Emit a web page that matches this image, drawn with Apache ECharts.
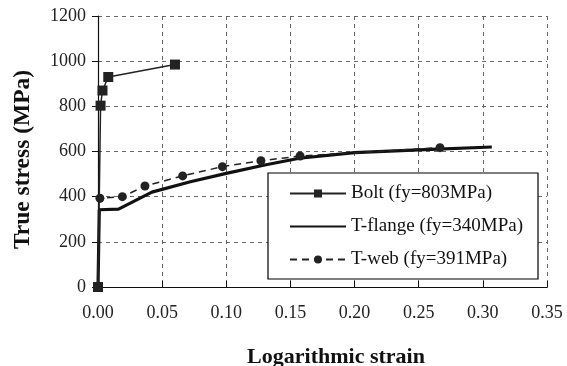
<!DOCTYPE html>
<html><head><meta charset="utf-8">
<script src="https://cdn.jsdelivr.net/npm/echarts@6/dist/echarts.min.js"></script>
<style>html,body{margin:0;padding:0;background:#fff}#c{width:567px;height:366px}</style>
</head><body><div id="c"></div>
<script>
const xTicks = [0, 0.05, 0.10, 0.15, 0.20, 0.25, 0.30, 0.35];
const yTicks = [0, 200, 400, 600, 800, 1000, 1200];
const boltName = 'Bolt (fy=803MPa)';
const flangeName = 'T-flange (fy=340MPa)';
const webName = 'T-web (fy=391MPa)';
const boltData = [[0,0],[0.002,803],[0.0035,870],[0.008,930],[0.060,985]];
const flangeData = [[0,0],[0.001,342],[0.016,345],[0.042,420],[0.072,466],[0.100,503],[0.130,540],[0.157,570],[0.200,595],[0.250,607],[0.307,620]];
const webData = [[0,0],[0.0015,393],[0.019,400],[0.0366,447],[0.066,492],[0.097,533],[0.127,559],[0.1575,580],[0.2666,617]];

const font = 'Liberation Serif';
const chart = echarts.init(document.getElementById('c'));
chart.setOption({
  animation: false,
  backgroundColor: '#fff',
  grid: {left: 98, right: 20, top: 16, bottom: 79, containLabel: false, outerBoundsMode: 'none'},
  legend: {
    right: 29, top: 173, orient: 'vertical',
    itemWidth: 56, itemHeight: 10, itemGap: 14,
    backgroundColor: '#fff', borderColor: '#000', borderWidth: 1.2,
    padding: [11, 15, 10, 21],
    textStyle: {fontFamily: font, fontSize: 19, color: '#111'},
    data: [boltName, {name: flangeName, itemStyle: {color: 'rgba(0,0,0,0)', borderWidth: 0}}, webName]
  },
  xAxis: [{
    type: 'value', min: 0, max: 0.35, interval: 0.05,
    axisLine: {show: true, onZero: false, lineStyle: {color: '#111', width: 1.2}},
    axisTick: {show: true, inside: true, length: 6, lineStyle: {color: '#111'}},
    axisLabel: {fontFamily: font, fontSize: 18, color: '#222', margin: 17,
      formatter: v => v.toFixed(2)},
    splitLine: {show: true, lineStyle: {color: '#666', type: [4, 4], width: 1}},
    name: 'Logarithmic strain', nameLocation: 'middle', nameGap: 59,
    nameTextStyle: {fontFamily: font, fontSize: 22, fontWeight: 'bold', color: '#111', padding: [0, 0, 0, 27]}
  }, {
    type: 'value', position: 'top', min: 0, max: 0.35,
    axisLine: {show: true, lineStyle: {color: '#111', width: 1.2}},
    axisTick: {show: false}, axisLabel: {show: false}, splitLine: {show: false}
  }],
  yAxis: {
    type: 'value', min: 0, max: 1200, interval: 200,
    axisLine: {show: true, onZero: false, lineStyle: {color: '#111', width: 1.2}},
    axisTick: {show: true, length: 6, lineStyle: {color: '#111'}},
    axisLabel: {fontFamily: font, fontSize: 18, color: '#222', margin: 12,
      formatter: v => String(v)},
    splitLine: {show: true, lineStyle: {color: '#666', type: [4, 4], width: 1}},
    name: 'True stress (MPa)', nameLocation: 'middle', nameGap: 63,
    nameTextStyle: {fontFamily: font, fontSize: 23.5, fontWeight: 'bold', color: '#111', padding: [0, 16, 0, 0]}
  },
  series: [
    {name: boltName, type: 'line', data: boltData, symbol: 'rect', symbolSize: 10,
     lineStyle: {color: '#222', width: 1.5}, itemStyle: {color: '#222'}, z: 3},
    {name: flangeName, type: 'line', data: flangeData, symbol: 'none',
     lineStyle: {color: '#111', width: 3.2}, itemStyle: {color: '#111'}, z: 2},
    {name: webName, type: 'line', data: webData, symbol: 'circle', symbolSize: 9,
     lineStyle: {color: '#222', width: 1.5, type: [7, 5]}, itemStyle: {color: '#222'}, z: 2}
  ]
});
</script></body></html>
